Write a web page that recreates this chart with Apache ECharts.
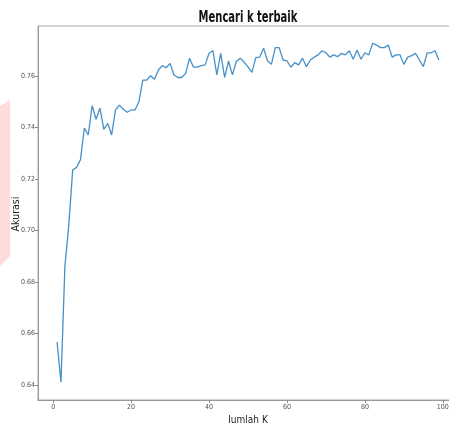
<!DOCTYPE html>
<html>
<head>
<meta charset="utf-8">
<script src="https://cdn.jsdelivr.net/npm/echarts@6/dist/echarts.min.js"></script>
<style>html,body{margin:0;padding:0;background:#fff}#c{width:449px;height:423px}</style>
</head>
<body>
<div id="c"></div>
<script>
const kValues = Array.from({length: 99}, (_, i) => i + 1);
const accuracy = [
  0.6567, 0.6411, 0.6860, 0.7020, 0.7235, 0.7245, 0.7275, 0.7398, 0.7371, 0.7485,
  0.7432, 0.7475, 0.7393, 0.7416, 0.7371, 0.7468, 0.7487, 0.7471, 0.7459, 0.7468,
  0.7468, 0.7500, 0.7584, 0.7584, 0.7601, 0.7587, 0.7623, 0.7640, 0.7632, 0.7649,
  0.7604, 0.7594, 0.7594, 0.7610, 0.7669, 0.7634, 0.7634, 0.7640, 0.7643, 0.7688,
  0.7698, 0.7604, 0.7688, 0.7594, 0.7658, 0.7604, 0.7656, 0.7669, 0.7654, 0.7635,
  0.7614, 0.7671, 0.7673, 0.7708, 0.7659, 0.7645, 0.7710, 0.7710, 0.7662, 0.7659,
  0.7634, 0.7652, 0.7643, 0.7669, 0.7636, 0.7662, 0.7673, 0.7682, 0.7698, 0.7690,
  0.7673, 0.7682, 0.7675, 0.7688, 0.7682, 0.7698, 0.7665, 0.7700, 0.7665, 0.7690,
  0.7682, 0.7727, 0.7720, 0.7710, 0.7710, 0.7720, 0.7673, 0.7682, 0.7682, 0.7645,
  0.7673, 0.7679, 0.7688, 0.7662, 0.7636, 0.7690, 0.7690, 0.7698, 0.7662
];
const xTicks = [0, 20, 40, 60, 80, 100];
const yTicks = [0.64, 0.66, 0.68, 0.70, 0.72, 0.74, 0.76];
const titleText = 'Mencari k terbaik';
const xName = 'Jumlah K';
const yName = 'Akurasi';

const FONT = '"DejaVu Sans Condensed", "Liberation Sans Narrow", "DejaVu Sans", sans-serif';
const TICKFONT = '"Liberation Sans Narrow", "DejaVu Sans Condensed", sans-serif';
const chart = echarts.init(document.getElementById('c'), null, {renderer: 'canvas'});
chart.setOption({
  animation: false,
  backgroundColor: '#fff',
  graphic: [{
    type: 'polygon',
    shape: {points: [[0, 106], [10, 100], [10, 256], [0, 266]]},
    style: {fill: '#fddcdc'},
    z: -10
  }, {
    type: 'text',
    x: 248, y: 18, scaleX: 0.74,
    style: {text: titleText, font: 'bold 15px "DejaVu Sans Condensed", "DejaVu Sans", sans-serif', fill: '#111', align: 'center', verticalAlign: 'middle'}
  }, {
    type: 'text',
    x: 16, y: 214, rotation: Math.PI / 2,
    style: {text: yName, font: '10.5px "DejaVu Sans Condensed", "DejaVu Sans", sans-serif', fill: '#222', align: 'center', verticalAlign: 'middle'}
  }],
  grid: {left: 38, top: 26, width: 420, height: 374, show: true, borderColor: '#aaa', borderWidth: 1, outerBoundsMode: 'none', containLabel: false},
  xAxis: {
    type: 'value', min: -3.9, max: 103.9,
    name: xName, nameLocation: 'middle', nameGap: 13,
    nameTextStyle: {fontFamily: FONT, fontSize: 10, color: '#222'},
    axisLine: {show: true, onZero: false, lineStyle: {color: '#999'}},
    axisTick: {show: true, length: 3, customValues: xTicks, lineStyle: {color: '#888'}},
    axisLabel: {customValues: xTicks, fontFamily: TICKFONT, fontSize: 7, color: '#555', margin: 4},
    splitLine: {show: false}
  },
  yAxis: {
    type: 'value', min: 0.6342, max: 0.7794,
    axisLine: {show: true, onZero: false, lineStyle: {color: '#999'}},
    axisTick: {show: true, length: 3, customValues: yTicks, lineStyle: {color: '#888'}},
    axisLabel: {customValues: yTicks, formatter: v => v.toFixed(2), fontFamily: TICKFONT, fontSize: 7, color: '#555', margin: 3},
    splitLine: {show: false}
  },
  series: [{
    type: 'line',
    data: kValues.map((k, i) => [k, accuracy[i]]),
    showSymbol: false,
    lineStyle: {color: '#4590c8', width: 1.3},
    itemStyle: {color: '#4590c8'}
  }]
});
</script>
</body>
</html>
